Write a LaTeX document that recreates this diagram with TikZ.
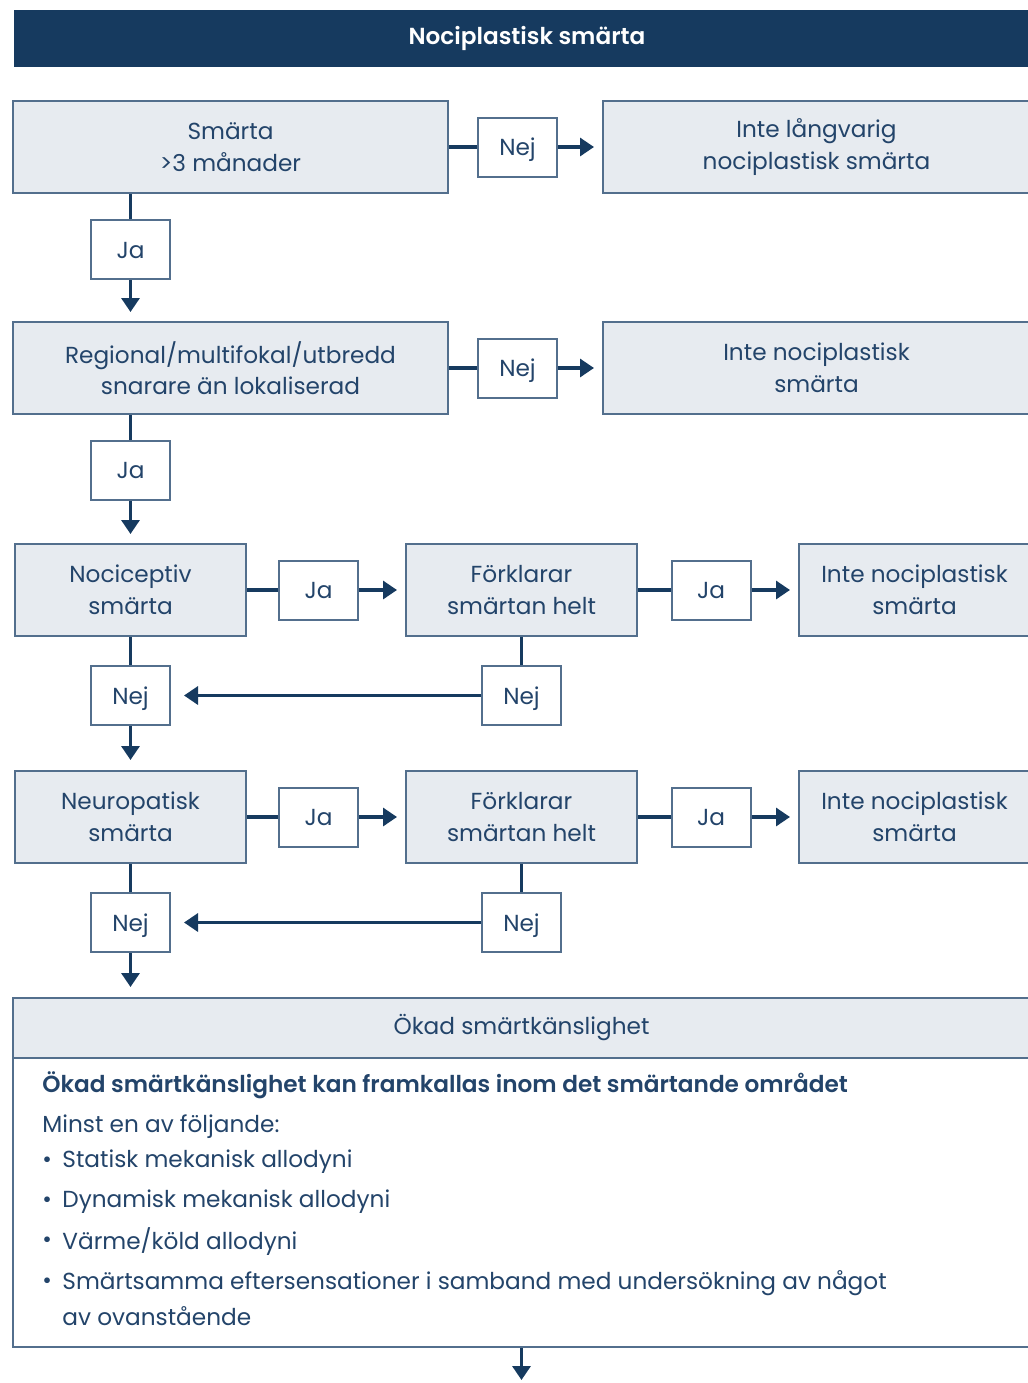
\documentclass[tikz,border=0pt]{standalone}
\usepackage{fontspec}
\setmainfont{Poppins}[BoldFont={Poppins SemiBold}]
\usepackage{xcolor}
\usetikzlibrary{arrows.meta,positioning}
\definecolor{navy}{HTML}{163A5F}
\definecolor{boxfill}{HTML}{E7EBF0}
\definecolor{edge}{HTML}{536F8D}
\definecolor{ink}{HTML}{23446A}

\begin{document}
\begin{tikzpicture}[x=0.5pt, y=-0.5pt,
  stepbox/.style={rectangle, draw=edge, line width=1pt, fill=boxfill, text=ink,
                  align=center, inner sep=0pt, minimum height=46pt,
                  font=\fontsize{11.6}{15.8}\selectfont},
  wide/.style={stepbox, minimum width=217.5pt},
  half/.style={stepbox, minimum width=115.5pt},
  tag/.style={rectangle, draw=edge, line width=1pt, fill=white, text=ink, inner sep=0pt,
              text height=9.4pt, text depth=0.6pt,
              minimum width=39.5pt, minimum height=29.5pt, font=\fontsize{11.6}{13}\selectfont},
  line/.style={draw=navy, line width=1.6pt},
  arr/.style={line, -{Triangle[width=9pt,length=7pt]}, shorten >=4pt},
  txt/.style={anchor=west, text=ink, inner sep=0pt, font=\fontsize{11.6}{13}\selectfont}
]
  \useasboundingbox (0,0) rectangle (1028,1383);

  % title
  \node[fill=navy, text=white, minimum width=513pt, minimum height=28.5pt, inner sep=0pt,
        font=\fontsize{11.6}{13}\selectfont\bfseries] (title) at (527,38.5) {Nociplastisk smärta};

  % row 1
  \node[wide] (s1) at (230.5,147) {Smärta\\>3 månader};
  \node[tag] (n1) at (517.5,147) {Nej};
  \node[wide, minimum width=213.5pt] (r1) at (816.5,147) {Inte långvarig\\nociplastisk smärta};
  \node[tag] (j1) at (130.5,249.5) {Ja};

  % row 2
  \node[wide] (s2) at (230.5,368) {Regional/multifokal/utbredd\\snarare än lokaliserad};
  \node[tag] (n2) at (517.5,368) {Nej};
  \node[wide, minimum width=213.5pt] (r2) at (816.5,368) {Inte nociplastisk\\smärta};
  \node[tag] (j2) at (130.5,470) {Ja};

  % row 3
  \node[half] (a3) at (130.5,590) {Nociceptiv\\smärta};
  \node[tag] (j3) at (318.5,590) {Ja};
  \node[half] (m3) at (521.5,590) {Förklarar\\smärtan helt};
  \node[tag] (k3) at (711,590) {Ja};
  \node[half] (r3) at (914.5,590) {Inte nociplastisk\\smärta};
  \node[tag] (e3) at (130.5,695.5) {Nej};
  \node[tag] (f3) at (521.5,695.5) {Nej};

  % row 4
  \node[half] (a4) at (130.5,817) {Neuropatisk\\smärta};
  \node[tag] (j4) at (318.5,817) {Ja};
  \node[half] (m4) at (521.5,817) {Förklarar\\smärtan helt};
  \node[tag] (k4) at (711,817) {Ja};
  \node[half] (r4) at (914.5,817) {Inte nociplastisk\\smärta};
  \node[tag] (e4) at (130.5,922.5) {Nej};
  \node[tag] (f4) at (521.5,922.5) {Nej};

  % sensitivity box
  \node[rectangle, draw=edge, line width=1pt, fill=white, inner sep=0pt,
        minimum width=508.5pt, minimum height=144.5pt] (body) at (521.5,1202.5) {};
  \node[stepbox, minimum width=508.5pt, minimum height=30pt] (head) at (521.5,1028) {Ökad smärtkänslighet};
  \node[txt] (l0) at (42,1085) {\bfseries Ökad smärtkänslighet kan framkallas inom det smärtande området};
  \node[txt] (l1) at (42,1127) {Minst en av följande:};
  \foreach \y/\t [count=\i] in {1162/{Statisk mekanisk allodyni}, 1202/{Dynamisk mekanisk allodyni},
                                 1242/{Värme/köld allodyni},
                                 1283/{Smärtsamma eftersensationer i samband med undersökning av något}}{
    \node[txt] (d\i) at (42,\y) {•};
    \node[txt] (b\i) at (62,\y) {\t};
  }
  \node[txt] (b5) at (62,1316) {av ovanstående};
  \coordinate (out) at (521.5,1383);

  % connectors
  \draw[line] (s1.east) -- (n1.west);  \draw[arr] (n1.east) -- (r1.west);
  \draw[line] (s2.east) -- (n2.west);  \draw[arr] (n2.east) -- (r2.west);
  \draw[line] (s1.south -| j1) -- (j1.north);  \draw[arr, shorten >=4.5pt] (j1.south) -- (s2.north -| j1);
  \draw[line] (s2.south -| j2) -- (j2.north);  \draw[arr, shorten >=4.5pt] (j2.south) -- (a3.north);

  \draw[line] (a3.east) -- (j3.west);  \draw[arr] (j3.east) -- (m3.west);
  \draw[line] (m3.east) -- (k3.west);  \draw[arr] (k3.east) -- (r3.west);
  \draw[line] (a3.south) -- (e3.north);  \draw[line] (m3.south) -- (f3.north);
  \draw[arr, shorten >=6.5pt] (f3.west) -- (e3.east);
  \draw[arr, shorten >=5pt] (e3.south) -- (a4.north);

  \draw[line] (a4.east) -- (j4.west);  \draw[arr] (j4.east) -- (m4.west);
  \draw[line] (m4.east) -- (k4.west);  \draw[arr] (k4.east) -- (r4.west);
  \draw[line] (a4.south) -- (e4.north);  \draw[line] (m4.south) -- (f4.north);
  \draw[arr, shorten >=6.5pt] (f4.west) -- (e4.east);
  \draw[arr, shorten >=5pt] (e4.south) -- (head.north -| e4);

  \draw[arr, shorten >=1.5pt] (body.south) -- (out);
\end{tikzpicture}
\end{document}
